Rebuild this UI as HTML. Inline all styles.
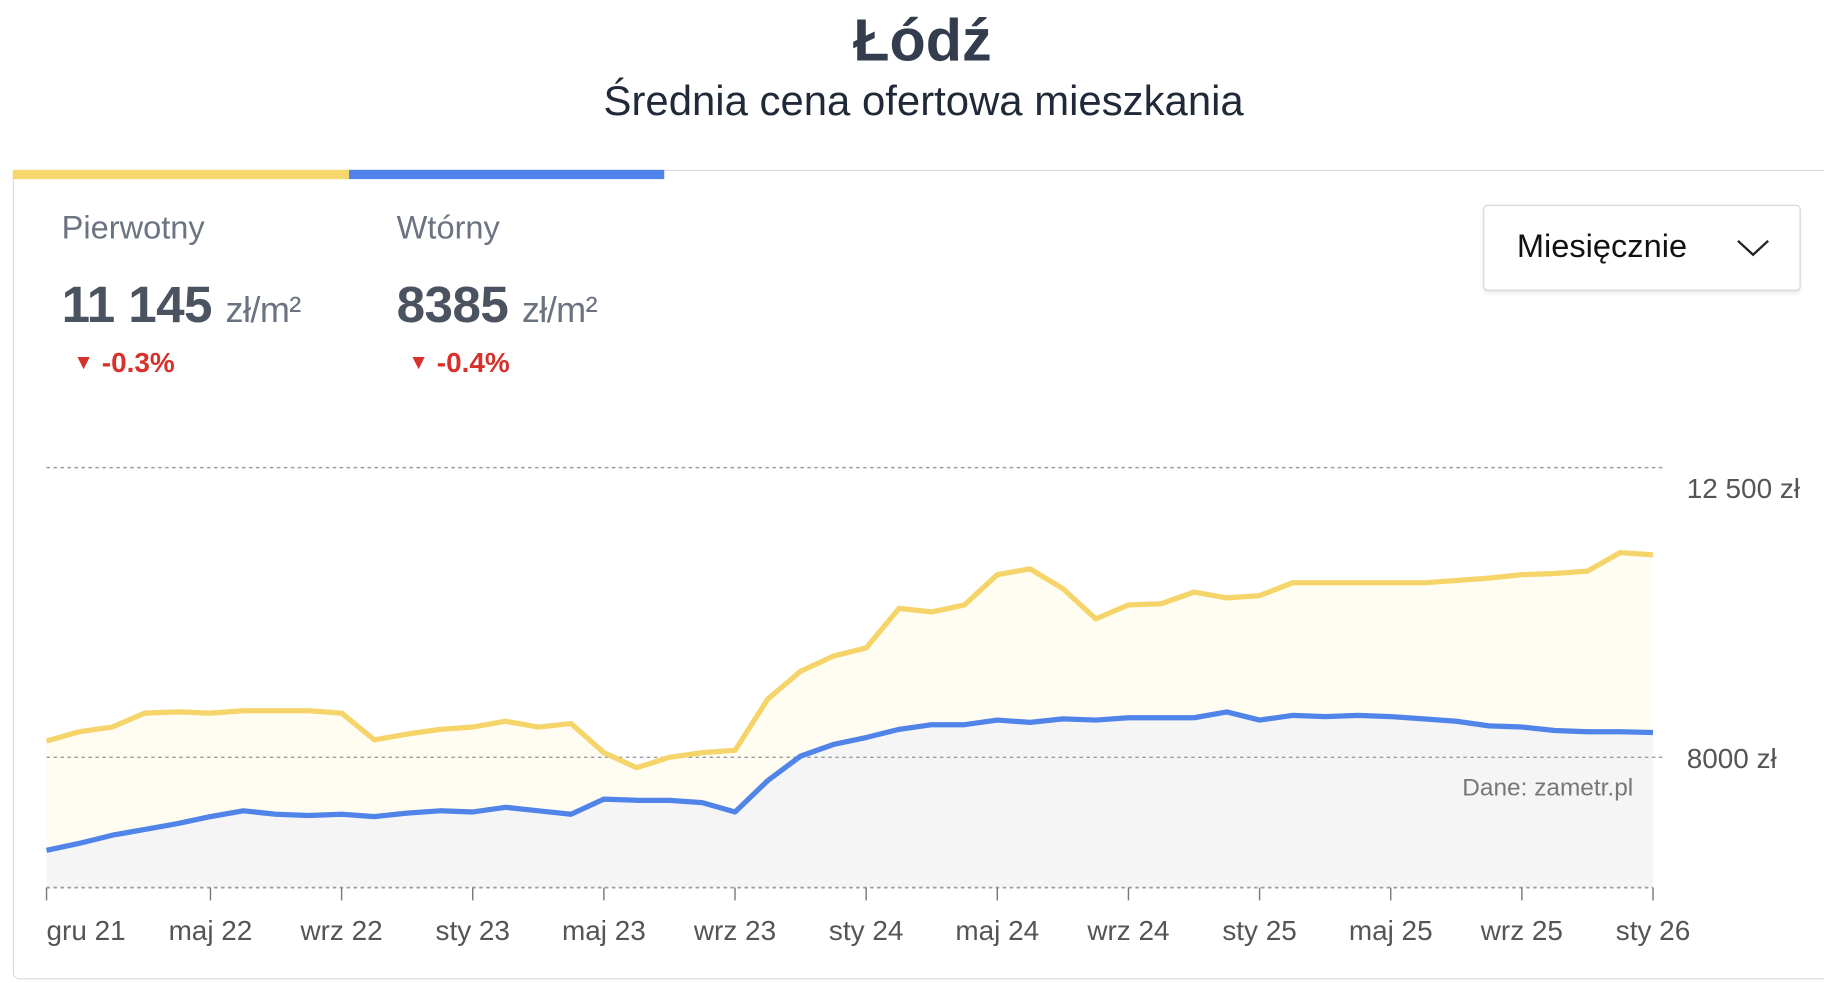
<!DOCTYPE html>
<html><head><meta charset="utf-8">
<style>
html,body{margin:0;padding:0;background:#fff;width:1824px;height:982px;overflow:hidden}
#w{position:absolute;left:0;top:0;width:1568px;height:845px;transform:scale(1.16327);transform-origin:0 0;font-family:"Liberation Sans",sans-serif}
.abs{position:absolute}
</style></head><body>
<div id="w">
<div class="abs" style="left:0;width:1586px;top:5px;text-align:center;font-size:51px;font-weight:bold;color:#333d4d">Łódź</div>
<div class="abs" style="left:0;width:1588px;top:66px;text-align:center;font-size:36px;color:#1f2937">Średnia cena ofertowa mieszkania</div>
<div class="abs" style="left:11px;top:146px;width:1580px;height:696px;border:1.5px solid #d8dbe0;border-radius:6px;box-sizing:border-box"></div>
<div class="abs" style="left:11px;top:146px;width:289px;height:8px;background:#f5d76b"></div>
<div class="abs" style="left:300px;top:146px;width:271px;height:8px;background:#4f82ea"></div>
<div class="abs" style="left:53px;top:180px;font-size:28px;color:#6b7280">Pierwotny</div>
<div class="abs" style="left:341px;top:180px;font-size:28px;color:#6b7280">Wtórny</div>
<div class="abs" style="left:53px;top:238px;font-size:44px;font-weight:bold;color:#4b5260;letter-spacing:-0.5px">11 145 <span style="font-size:31px;font-weight:normal;color:#6b7280">zł/m²</span></div>
<div class="abs" style="left:341px;top:238px;font-size:44px;font-weight:bold;color:#4b5260;letter-spacing:-0.5px">8385 <span style="font-size:31px;font-weight:normal;color:#6b7280">zł/m²</span></div>
<div class="abs" style="left:63px;top:299px;font-size:24px;font-weight:bold;color:#d6312b"><span style="font-size:18px;vertical-align:3px">▼</span> -0.3%</div>
<div class="abs" style="left:351px;top:299px;font-size:24px;font-weight:bold;color:#d6312b"><span style="font-size:18px;vertical-align:3px">▼</span> -0.4%</div>
<div class="abs" style="left:1275px;top:176px;width:273px;height:74px;border:1.5px solid #d1d5db;border-radius:4px;box-sizing:border-box;box-shadow:0 2px 3px rgba(0,0,0,0.08)">
<div class="abs" style="left:28px;top:19px;font-size:28px;color:#111">Miesięcznie</div>
<svg class="abs" style="left:216px;top:27px" width="30" height="18"><polyline points="2,3 15,15 28,3" fill="none" stroke="#222" stroke-width="2"/></svg>
</div>
<svg id="ch" class="abs" style="left:0;top:0" width="1568" height="845"></svg>
</div>
<script>
const months=50;
const tickLabels=["gru 21","maj 22","wrz 22","sty 23","maj 23","wrz 23","sty 24","maj 24","wrz 24","sty 25","maj 25","wrz 25","sty 26"];
const tickIndex=[0,5,9,13,17,21,25,29,33,37,41,45,49];
const yTicks=[8000,12500];
const yTickLabels=["8000 zł","12 500 zł"];
const pierwotny=[8253,8398,8470,8687,8705,8687,8723,8723,8723,8687,8271,8361,8434,8470,8560,8470,8524,8072,7837,8000,8072,8108,8904,9337,9572,9699,10313,10259,10367,10837,10927,10620,10150,10367,10385,10566,10476,10512,10711,10711,10711,10711,10711,10747,10783,10837,10855,10891,11180,11145];
const wtorny=[6554,6663,6789,6880,6970,7078,7169,7115,7097,7115,7078,7133,7169,7151,7223,7169,7115,7349,7331,7331,7295,7151,7639,8018,8199,8307,8434,8506,8506,8578,8542,8596,8578,8614,8614,8614,8705,8578,8650,8632,8650,8632,8596,8560,8488,8470,8416,8398,8398,8385];
const X0=40,X1=1421,Y8=651,Y125=402,YB=763;
function xs(i){return X0+(X1-X0)*i/(months-1);}
function ys(v){return Y8-(v-8000)*(Y8-Y125)/4500;}
const svg=document.getElementById('ch');const NS='http://www.w3.org/2000/svg';
function mk(t,a){const e=document.createElementNS(NS,t);for(const k in a)e.setAttribute(k,a[k]);svg.appendChild(e);return e;}
function pts(arr){return arr.map((v,i)=>xs(i).toFixed(1)+','+ys(v).toFixed(1)).join(' ');}
let a=mk('polygon',{points:pts(pierwotny)+' '+X1+','+YB+' '+X0+','+YB,fill:'#fffcf2'});

a=mk('polygon',{points:pts(wtorny)+' '+X1+','+YB+' '+X0+','+YB,fill:'#f5f5f6'});

yTicks.forEach((v,k)=>{const g=mk('line',{x1:X0,x2:1432,y1:ys(v),y2:ys(v),stroke:'#9a9ca3','stroke-width':1.2,'stroke-dasharray':'3,3'});

const t=mk('text',{x:1450,y:ys(v)+(k==1?26:9),'font-size':24,fill:'#555','font-family':'Liberation Sans, sans-serif'});t.textContent=yTickLabels[k];
});
let b=mk('line',{x1:X0,x2:X1,y1:YB,y2:YB,stroke:'#9a9ca3','stroke-width':1.5,'stroke-dasharray':'3,3'});

tickIndex.forEach((ix,k)=>{const l=mk('line',{x1:xs(ix),x2:xs(ix),y1:YB,y2:YB+11,stroke:'#777','stroke-width':1.2});

const t=mk('text',{x:xs(ix),y:808,'font-size':24,fill:'#555','text-anchor':k==0?'start':'middle','font-family':'Liberation Sans, sans-serif'});t.textContent=tickLabels[k];
});
let s=mk('polyline',{points:pts(pierwotny),fill:'none',stroke:'#f5d46a','stroke-width':4.5,'stroke-linejoin':'round'});

s=mk('polyline',{points:pts(wtorny),fill:'none',stroke:'#5084e8','stroke-width':4.5,'stroke-linejoin':'round'});

const c=mk('text',{x:1404,y:684,'font-size':21,fill:'#777','text-anchor':'end','font-family':'Liberation Sans, sans-serif'});c.textContent='Dane: zametr.pl';

</script>
</body></html>
